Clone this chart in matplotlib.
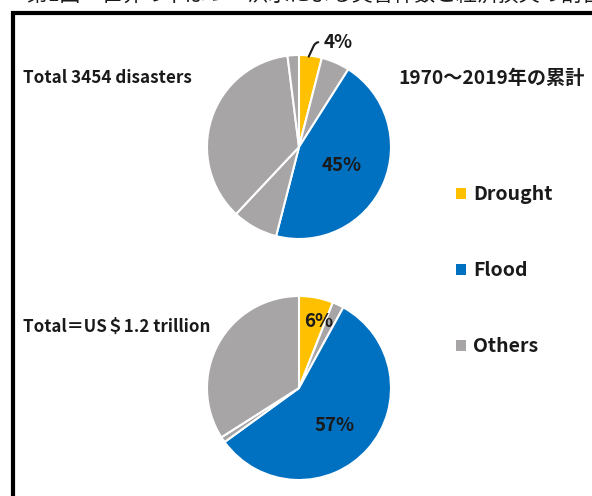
import matplotlib.pyplot as plt
from matplotlib.patches import Patch, Rectangle
import numpy as np

plt.rcParams['font.family'] = ['Noto Sans CJK JP', 'DejaVu Sans']

# データ
legend_names = ['Drought', 'Flood', 'Others']
colors = {'Drought': '#FFC000', 'Flood': '#0070C0', 'Others': '#A7A5A5'}

count_cats = ['Drought', 'Others', 'Flood', 'Others', 'Others', 'Others']
count_vals = [4, 5, 45, 8, 36, 2]

loss_cats = ['Drought', 'Others', 'Flood', 'Others', 'Others']
loss_vals = [6, 2, 57, 1, 34]

W, H = 592, 496
fig = plt.figure(figsize=(W / 100, H / 100), dpi=100)

# 切れている図タイトル
fig.text(0.045, 1.009, '第1図　世界の干ばつ・洪水による災害件数と経済損失の割合',
         fontsize=15, va='center', ha='left', color='#1a1a1a')

# 枠
fig.patches.append(Rectangle((13 / W, -0.05), 1.2, 1.05 - 13 / H, transform=fig.transFigure,
                             fill=False, lw=3, ec='black', zorder=0))


def pie_axes(cx, cy, r):
    s = r * 1.25
    return fig.add_axes([(cx - s) / W, (H - cy - s) / H, 2 * s / W, 2 * s / H])


def draw_pie(ax, cats, vals):
    wedges, _ = ax.pie(vals, colors=[colors[c] for c in cats], startangle=90,
                       counterclock=False,
                       wedgeprops=dict(edgecolor='white', linewidth=1.5))
    return wedges


def mid_pos(wedge, r):
    a = np.deg2rad((wedge.theta1 + wedge.theta2) / 2)
    return r * np.cos(a), r * np.sin(a)


ax1 = pie_axes(299, 147, 92)
w1 = draw_pie(ax1, count_cats, count_vals)
x, y = mid_pos(w1[2], 0.5)
ax1.text(x, y, f'{count_vals[2]}%', ha='center', va='center', fontsize=13.5,
         fontweight='bold', color='#1a1a1a')
x, y = mid_pos(w1[0], 1.0)
ax1.annotate(f'{count_vals[0]}%', xy=(x - 0.02, y - 0.01), xytext=(0.27, 1.14),
             ha='left', va='center', fontsize=13.5, fontweight='bold', color='#1a1a1a',
             arrowprops=dict(arrowstyle='-', color='#1a1a1a', lw=1.5,
                             shrinkA=2, shrinkB=0,
                             connectionstyle='angle,angleA=0,angleB=65,rad=4'))

ax2 = pie_axes(299, 388, 92)
w2 = draw_pie(ax2, loss_cats, loss_vals)
x, y = mid_pos(w2[2], 0.55)
ax2.text(x - 0.03, y - 0.04, f'{loss_vals[2]}%', ha='center', va='center', fontsize=13.5,
         fontweight='bold', color='#1a1a1a')
x, y = mid_pos(w2[0], 0.74)
ax2.text(x + 0.07, y, f'{loss_vals[0]}%', ha='center', va='center', fontsize=13.5,
         fontweight='bold', color='#1a1a1a')

fig.text(23 / W, 1 - 78 / H, 'Total 3454 disasters', fontsize=12.3, fontweight='bold',
         va='center', ha='left', color='#1a1a1a')
fig.text(23 / W, 1 - 327 / H, 'Total＝US＄1.2 trillion', fontsize=12.2, fontweight='bold',
         va='center', ha='left', color='#1a1a1a')
fig.text(398 / W, 1 - 78 / H, '1970～2019年の累計', fontsize=13.8, fontweight='bold',
         va='center', ha='left', color='#1a1a1a')

handles = [Patch(facecolor=colors[n], edgecolor='none', label=n) for n in legend_names]
fig.legend(handles=handles, loc='upper left', bbox_to_anchor=(438 / W, 1 - 168 / H),
           frameon=False, handlelength=0.55, handleheight=0.55, handletextpad=0.35,
           labelspacing=2.93, prop=dict(size=14, weight='bold'), labelcolor='#1a1a1a')

fig.savefig('out.png', dpi=100)
